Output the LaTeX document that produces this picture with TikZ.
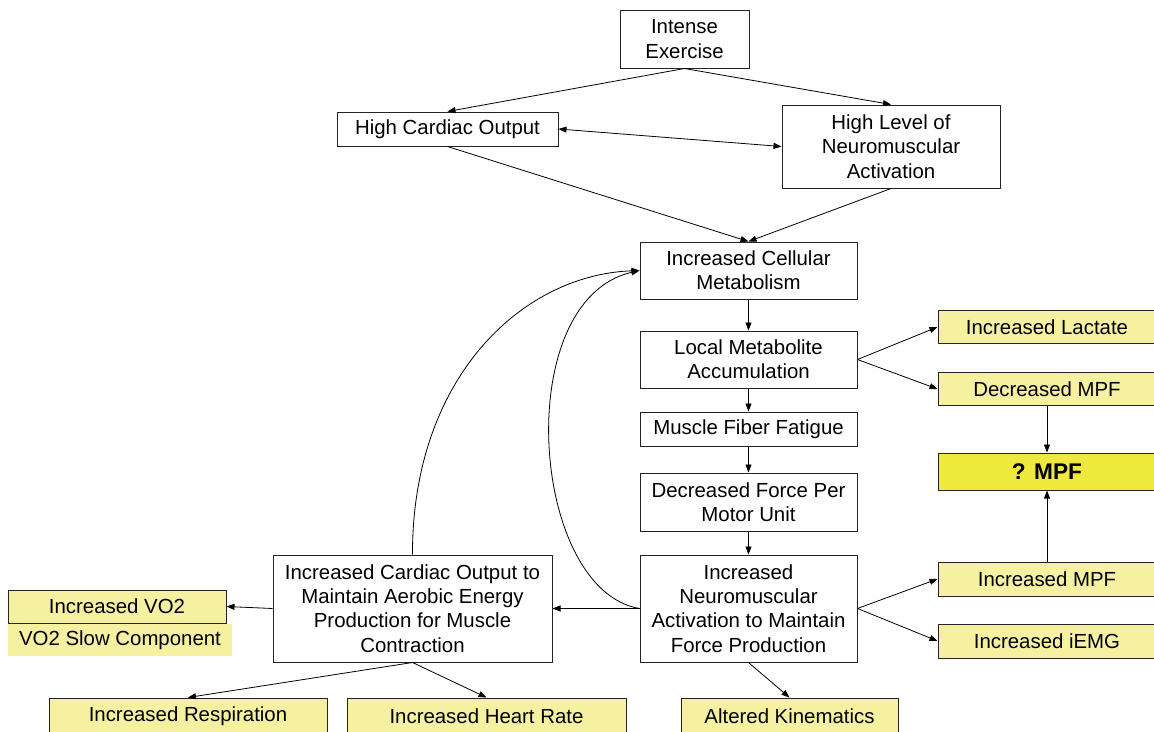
\documentclass[tikz,border=0pt]{standalone}
\usepackage{fontspec}
\setmainfont{Liberation Sans}
\usetikzlibrary{arrows.meta}
\definecolor{paleyellow}{RGB}{245,241,160}
\definecolor{brightyellow}{RGB}{238,233,60}
\definecolor{edgegray}{RGB}{35,35,35}
\begin{document}
\begin{tikzpicture}[x=0.75pt,y=-0.75pt,
  every node/.style={font=\fontsize{15.3}{18.2}\selectfont},
  sz/.style 2 args={minimum width={#1*0.75pt}, minimum height={#2*0.75pt}},
  box/.style={draw=edgegray, line width=0.75pt, fill=white, inner sep=0pt, align=center},
  ybox/.style={box, fill=paleyellow},
  tip/.tip={Triangle[length=6pt,width=4.5pt]},
  arr/.style={-tip, line width=0.6pt},
  darr/.style={tip-tip, line width=0.6pt}]

\useasboundingbox (0,0) rectangle (1154,732);
\clip (0,0) rectangle (1154,732);

% main chain
\node[box, sz={129}{58}] (ie)  at (684.5,39)   {Intense\\Exercise};
\node[box, sz={221}{34}] (hco) at (447.5,129)  {High Cardiac Output};
\node[box, sz={218}{83}] (hl)  at (891,146.5)  {High Level of\\Neuromuscular\\Activation};
\node[box, sz={217}{57}] (icm) at (748.5,270.5){Increased Cellular\\Metabolism};
\node[box, sz={217}{57}] (lma) at (748.5,359.5){Local Metabolite\\Accumulation};
\node[box, sz={217}{34}] (mff) at (748.5,429)  {Muscle Fiber Fatigue};
\node[box, sz={217}{58}] (dfp) at (748.5,502)  {Decreased Force Per\\Motor Unit};
\node[box, sz={217}{107}] (ina) at (748.5,608.5){Increased\\Neuromuscular\\Activation to Maintain\\Force Production};
\node[box, sz={279}{107}] (ico) at (412.5,608.5){Increased Cardiac Output to\\Maintain Aerobic Energy\\Production for Muscle\\Contraction};

% outcomes
\node[ybox, sz={218}{33}] (vo2)  at (117,606.5) {Increased VO2};
\node[fill=paleyellow, inner sep=0pt, sz={224}{32}] (slow) at (120,640) {VO2 Slow Component};
\node[ybox, sz={278}{36}] (resp) at (188,716)   {Increased Respiration};
\node[ybox, sz={279}{36}] (hr)   at (486.5,716) {Increased Heart Rate};
\node[ybox, sz={217}{36}] (kin)  at (789.5,716) {Altered Kinematics};
\node[ybox, sz={218}{33}] (lac)  at (1047,327)  {Increased Lactate};
\node[ybox, sz={218}{33}] (dmpf) at (1047,389)  {Decreased MPF};
\node[box, fill=brightyellow, sz={218}{37}, font=\fontsize{17}{20}\selectfont\bfseries] (qmpf) at (1047,471.5) {? MPF};
\node[ybox, sz={218}{34}] (impf) at (1047,579)  {Increased MPF};
\node[ybox, sz={218}{34}] (iemg) at (1047,641)  {Increased iEMG};

% connectors
\draw[arr] (ie.south) -- (hco.north);
\draw[arr] (ie.south) -- (hl.north);
\draw[darr] (hco.east) -- (hl.west);
\draw[arr] (hco.south) -- (icm.north);
\draw[arr] (hl.south) -- (icm.north);
\draw[arr] (icm) -- (lma);
\draw[arr] (lma) -- (mff);
\draw[arr] (mff) -- (dfp);
\draw[arr] (dfp) -- (ina);
\draw[arr] (lma.east) -- (lac.west);
\draw[arr] (lma.east) -- (dmpf.west);
\draw[arr] (dmpf) -- (qmpf);
\draw[arr] (impf) -- (qmpf);
\draw[arr] (ina.east) -- (impf.west);
\draw[arr] (ina.east) -- (iemg.west);
\draw[arr] (ina.west) -- (ico.east);
\draw[arr] (ina.west) .. controls (530,590) and (510,300) .. (icm.west);
\draw[arr] (ico.north) .. controls (412,380) and (520,275) .. (icm.west);
\draw[arr] (ico.west) -- (vo2.east);
\draw[arr] (ico.south) -- (resp.north);
\draw[arr] (ico.south) -- (hr.north);
\draw[arr] (ina.south) -- (kin.north);
\end{tikzpicture}
\end{document}
